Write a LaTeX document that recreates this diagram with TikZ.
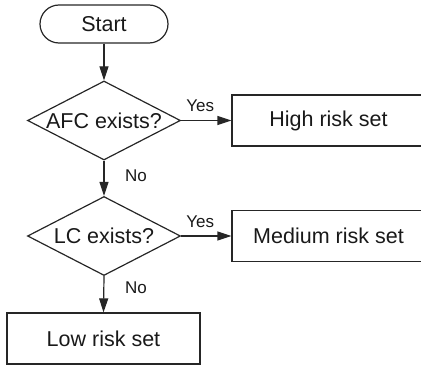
\documentclass[tikz,border=0pt]{standalone}
\usepackage{fontspec}
\setmainfont{Liberation Sans}
\usetikzlibrary{shapes.geometric,arrows.meta}
\begin{document}
\begin{tikzpicture}[x=1pt,y=-1pt,
  every node/.style={font=\fontsize{21.5}{24}\selectfont, text=black!90},
  line/.style={draw=black!85, line width=1.2pt},
  term/.style={line, rectangle, rounded corners=19pt, minimum width=128pt, minimum height=38pt, inner sep=0pt},
  decision/.style={line, diamond, minimum width=153pt, minimum height=79pt, inner sep=0pt},
  proc/.style={line, rectangle, inner sep=0pt},
  arr/.style={line, -{Triangle[length=14pt,width=9pt]}},
  lbl/.style={font=\fontsize{17}{19}\selectfont, inner sep=0pt, anchor=base west}
]
\useasboundingbox (0,0) rectangle (421,369);
\clip (0,0) rectangle (421,369);
\node[term] (start) at (104,24) {Start};
\node[decision] (d1) at (104,120.5) {\makebox[0pt]{AFC exists?}};
\node[decision] (d2) at (104,236) {\makebox[0pt]{LC exists?}};
\node[proc, minimum width=193pt, minimum height=51pt] (high) at (328.5,120.5) {High risk set};
\node[proc, minimum width=193pt, minimum height=51pt] (med) at (328.5,236) {Medium risk set};
\node[proc, minimum width=193pt, minimum height=51pt] (low) at (103.5,338.5) {Low risk set};
\draw[arr] (start) -- (d1);
\draw[arr] (d1.east) -- (high.west);
\draw[arr] (d1.south) -- (d2.north);
\draw[arr] (d2.east) -- (med.west);
\draw[arr] (d2.south) -- (low.north);
\node[lbl] (yes1) at ([shift={(5pt,9pt)}]d1.east) {Yes};
\node[lbl] (yes2) at ([shift={(5pt,9pt)}]d2.east) {Yes};
\node[lbl] (no1) at ([shift={(21pt,-21pt)}]d1.south) {No};
\node[lbl] (no2) at ([shift={(21pt,-17.5pt)}]d2.south) {No};
\end{tikzpicture}
\end{document}
